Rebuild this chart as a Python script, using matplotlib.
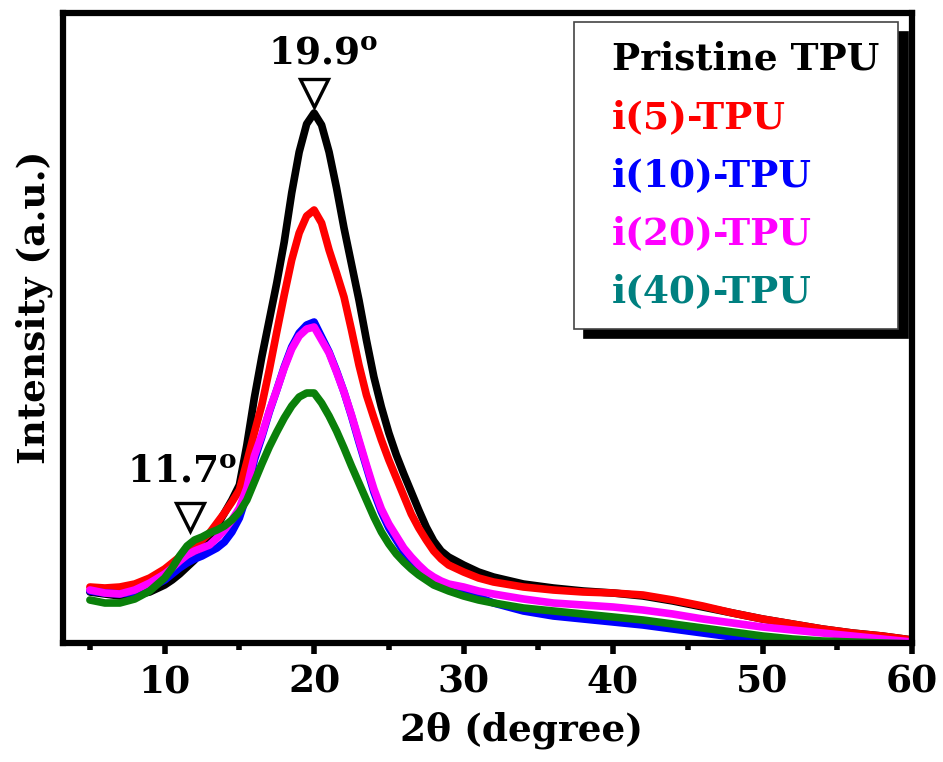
import matplotlib
matplotlib.use("Agg")
import matplotlib.pyplot as plt
from matplotlib.lines import Line2D
from matplotlib.ticker import MultipleLocator

plt.rcParams["font.family"] = ["DejaVu Serif"]
plt.rcParams["font.weight"] = "bold"
plt.rcParams["mathtext.fontset"] = "dejavuserif"

# XRD patterns (2-theta in degrees, intensity in arbitrary units)
two_theta = [5, 6, 7, 8, 9, 10,
             10.5, 11, 11.5, 12, 12.5, 13, 13.5, 14, 14.5, 15,
             15.5, 16, 16.5, 17, 17.5, 18, 18.5, 19, 19.5, 20,
             20.5, 21, 21.5, 22, 22.5, 23, 23.5, 24, 24.5, 25,
             25.5, 26, 26.5, 27, 27.5, 28, 28.5, 29,
             30, 31, 32,
             34, 36, 38, 40, 42, 44, 46, 48, 50, 52, 54, 56, 58, 60]

pristine = [51, 49, 47, 48, 51, 58,
            63, 69, 76, 83, 93, 104, 117, 130, 143, 158,
            198, 245, 286, 323, 360, 401, 450, 491, 519, 530,
            518, 491, 455, 415, 379, 343, 303, 266, 236, 210,
            188, 169, 151, 133, 116, 102, 92, 86,
            78, 71, 66,
            59, 55, 52, 50, 47, 42, 36, 30, 24, 19, 14, 10, 7, 3]

i5 = [56, 55, 56, 59, 65, 74,
      80, 86, 91, 96, 103, 110, 120, 130, 141, 153,
      181, 210, 238, 273, 311, 348, 383, 410, 427, 433,
      420, 393, 370, 346, 313, 278, 248, 225, 203, 183,
      165, 147, 129, 115, 103, 92, 84, 78,
      71, 65, 61,
      56, 53, 51, 50, 48, 43, 37, 30, 24, 19, 14, 10, 7, 3]

i10 = [52, 50, 49, 51, 55, 63,
       69, 75, 80, 84, 87, 91, 95, 101, 111, 125,
       148, 183, 206, 231, 253, 276, 296, 310, 318, 321,
       306, 291, 272, 251, 227, 201, 176, 151, 131, 115,
       103, 91, 82, 74, 68, 63, 59, 56,
       52, 46, 40,
       32, 27, 24, 21, 18, 14, 10, 6, 2, -1, -3, -4, -5, -6]

i20 = [53, 50, 49, 53, 60, 69,
       75, 82, 88, 92, 95, 98, 105, 113, 123, 135,
       155, 187, 208, 232, 253, 275, 294, 307, 314, 316,
       303, 290, 271, 251, 228, 203, 178, 154, 134, 119,
       107, 95, 86, 78, 71, 66, 62, 59,
       56, 52, 49,
       44, 40, 38, 36, 33, 29, 24, 20, 16, 13, 10, 7, 4, 1]

i40 = [43, 40, 40, 44, 52, 65,
       75, 87, 97, 103, 106, 110, 113, 117, 123, 131,
       143, 161, 179, 196, 211, 225, 237, 246, 250, 250,
       240, 227, 212, 195, 177, 160, 143, 126, 111, 99,
       89, 81, 74, 68, 63, 58, 55, 52,
       47, 43, 40,
       35, 32, 29, 26, 23, 19, 15, 11, 7, 4, 2, 1, 0, -1]

labels = ["Pristine TPU", "i(5)-TPU", "i(10)-TPU", "i(20)-TPU", "i(40)-TPU"]
line_colors = ["black", "#ff0000", "#0000ff", "#ff00ff", "#0a800a"]
text_colors = ["black", "#ff0000", "#0000ff", "#ff00ff", "#008080"]
series = [pristine, i5, i10, i20, i40]

# peak markers: (2-theta, marker height) and their labels
peak_marks = [(20.0, 550), (11.7, 126)]
peak_labels = [(20.6, 580, "19.9"), (11.2, 161, "11.7")]

FS = 27

fig = plt.figure(figsize=(9.43, 7.62), dpi=100)
ax = fig.add_axes([63 / 943, 1 - 643 / 762, (912 - 63) / 943, (643 - 13) / 762])

for y, c in zip(series, line_colors):
    ax.plot(two_theta, y, color=c, lw=5.5, solid_capstyle="round",
            solid_joinstyle="round", zorder=2)

ax.set_xlim(3.2, 60)
ax.set_ylim(0, 630)
ax.set_yticks([])
ax.xaxis.set_major_locator(MultipleLocator(10))
ax.xaxis.set_minor_locator(MultipleLocator(5))
ax.set_xticks([10, 20, 30, 40, 50, 60])
ax.tick_params(axis="x", which="major", direction="out", length=8, width=4,
               labelsize=FS, pad=7)
ax.tick_params(axis="x", which="minor", direction="out", length=5, width=4)
for lab in ax.get_xticklabels():
    lab.set_fontweight("bold")
for s in ax.spines.values():
    s.set_linewidth(4.5)

ax.set_xlabel("2θ (degree)", fontsize=FS, fontweight="bold", va="top")
ax.xaxis.set_label_coords(0.54, -0.108)
ax.set_ylabel("Intensity (a.u.)", fontsize=FS, fontweight="bold")
ax.yaxis.set_label_coords(-0.012, 0.533)

# peak annotations
for px, py in peak_marks:
    ax.plot([px], [py], marker="v", ms=20, mfc="white", mec="black",
            mew=2.4, zorder=4)
for tx, ty, txt in peak_labels:
    ax.text(tx, ty, txt + r"$^{\mathbf{o}}$", ha="center", va="baseline",
            fontsize=FS, fontweight="bold")

handles = [Line2D([], [], color="none") for _ in labels]
leg = ax.legend(handles, labels, loc="upper right",
                bbox_to_anchor=(898 / 943, 1 - 22 / 762),
                bbox_transform=fig.transFigure, borderaxespad=0,
                handlelength=0, handletextpad=0.5, fontsize=FS,
                labelspacing=0.56, borderpad=0.5, fancybox=False,
                shadow={"color": "black", "alpha": 1, "ox": 7, "oy": -7},
                framealpha=1, edgecolor="#444444")
leg.get_frame().set_linewidth(1.2)
for t, c in zip(leg.get_texts(), text_colors):
    t.set_color(c)
    t.set_fontweight("bold")

fig.savefig("out.png", dpi=100)
